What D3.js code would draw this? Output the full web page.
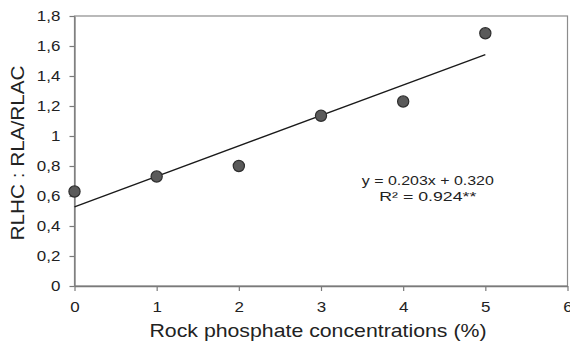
<!DOCTYPE html>
<html>
<head>
<meta charset="utf-8">
<script src="https://cdn.jsdelivr.net/npm/d3@7"></script>
<style>
  body { margin: 0; background: #fff; }
  svg { display: block; font-family: "Liberation Sans", Arial, sans-serif; }
  .tick text { fill: #222; }
</style>
</head>
<body>
<svg id="chart"></svg>
<script>
// Rock phosphate vs RLHC : RLA/RLAC scatter with linear trend

const concentrations = [0, 1, 2, 3, 4, 5];
const ratios = [0.63, 0.73, 0.80, 1.135, 1.23, 1.685];
const xTicks = [0, 1, 2, 3, 4, 5, 6];
const yTicks = [0, 0.2, 0.4, 0.6, 0.8, 1, 1.2, 1.4, 1.6, 1.8];
const yTickLabels = ["0", "0,2", "0,4", "0,6", "0,8", "1", "1,2", "1,4", "1,6", "1,8"];
const equationLines = ["y = 0.203x + 0.320", "R\u00b2 = 0.924**"];

const W = 570, H = 343;
const MARGIN = { top: 16, right: 2.5, bottom: 57, left: 74.5 };
const innerW = W - MARGIN.left - MARGIN.right;
const innerH = H - MARGIN.top - MARGIN.bottom;
const STRETCH = 1.13; // the source font runs wider than Liberation Sans

const svg = d3.select("#chart").attr("width", W).attr("height", H);
const g = svg.append("g").attr("transform", `translate(${MARGIN.left},${MARGIN.top})`);

const x = d3.scaleLinear().domain([0, 6]).range([0, innerW]);
const y = d3.scaleLinear().domain([0, 1.8]).range([innerH, 0]);

//Plot frame
g.append("rect")
  .attr("x", 0).attr("y", 0)
  .attr("width", innerW).attr("height", innerH)
  .attr("fill", "#fff")
  .attr("stroke", "#8c8c8c")
  .attr("stroke-width", 1.2);

//Axes
const xAxis = g.append("g")
  .attr("transform", `translate(0,${innerH})`)
  .call(d3.axisBottom(x).tickValues(xTicks).tickSize(5).tickSizeOuter(0).tickPadding(10)
    .tickFormat(d3.format("d")));

const yAxis = g.append("g")
  .call(d3.axisLeft(y).tickValues(yTicks).tickSize(5).tickSizeOuter(0).tickPadding(7.5)
    .tickFormat((d, i) => yTickLabels[i]));

[xAxis, yAxis].forEach(a => {
  a.select(".domain").attr("stroke", "#7a7a7a").attr("stroke-width", 1.3);
  a.selectAll(".tick line").attr("stroke", "#7a7a7a").attr("stroke-width", 1.2);
  a.selectAll(".tick text")
    .attr("font-size", 15)
    .attr("font-family", "Liberation Sans, Arial, sans-serif")
    .attr("transform", `scale(${STRETCH},1)`);
});

//Least squares trend line
const mx = d3.mean(concentrations), my = d3.mean(ratios);
const sxy = d3.sum(concentrations, (c, i) => (c - mx) * (ratios[i] - my));
const sxx = d3.sum(concentrations, c => (c - mx) * (c - mx));
const slope = sxy / sxx;
const intercept = my - slope * mx;
const xExtent = d3.extent(concentrations);

g.append("line")
  .attr("x1", x(xExtent[0])).attr("y1", y(intercept + slope * xExtent[0]))
  .attr("x2", x(xExtent[1])).attr("y2", y(intercept + slope * xExtent[1]))
  .attr("stroke", "#1a1a1a")
  .attr("stroke-width", 1.4);

//Points
g.selectAll(".pt")
  .data(concentrations.map((c, i) => ({ c, r: ratios[i] })))
  .enter().append("circle")
  .attr("class", "pt")
  .attr("cx", d => x(d.c))
  .attr("cy", d => y(d.r))
  .attr("r", 5.6)
  .attr("fill", "#5a5a5a")
  .attr("stroke", "#2e2e2e")
  .attr("stroke-width", 1.2);

//Equation annotation
const eqWidths = [132, 97];
equationLines.forEach((t, i) => {
  g.append("text")
    .attr("x", x(4.3))
    .attr("y", y(0.673) + i * 16)
    .attr("text-anchor", "middle")
    .attr("font-size", 13)
    .attr("fill", "#222")
    .attr("textLength", eqWidths[i])
    .attr("lengthAdjust", "spacingAndGlyphs")
    .text(t);
});

//Axis titles
svg.append("text")
  .attr("x", MARGIN.left + innerW / 2 - 3)
  .attr("y", 337)
  .attr("text-anchor", "middle")
  .attr("font-size", 18.5)
  .attr("fill", "#222")
  .attr("textLength", 337)
  .attr("lengthAdjust", "spacingAndGlyphs")
  .text("Rock phosphate concentrations (%)");

svg.append("text")
  .attr("transform", `translate(24,${MARGIN.top + innerH / 2 + 2}) rotate(-90)`)
  .attr("text-anchor", "middle")
  .attr("font-size", 18.5)
  .attr("fill", "#222")
  .attr("textLength", 175)
  .attr("lengthAdjust", "spacingAndGlyphs")
  .text("RLHC : RLA/RLAC");
</script>
</body>
</html>
